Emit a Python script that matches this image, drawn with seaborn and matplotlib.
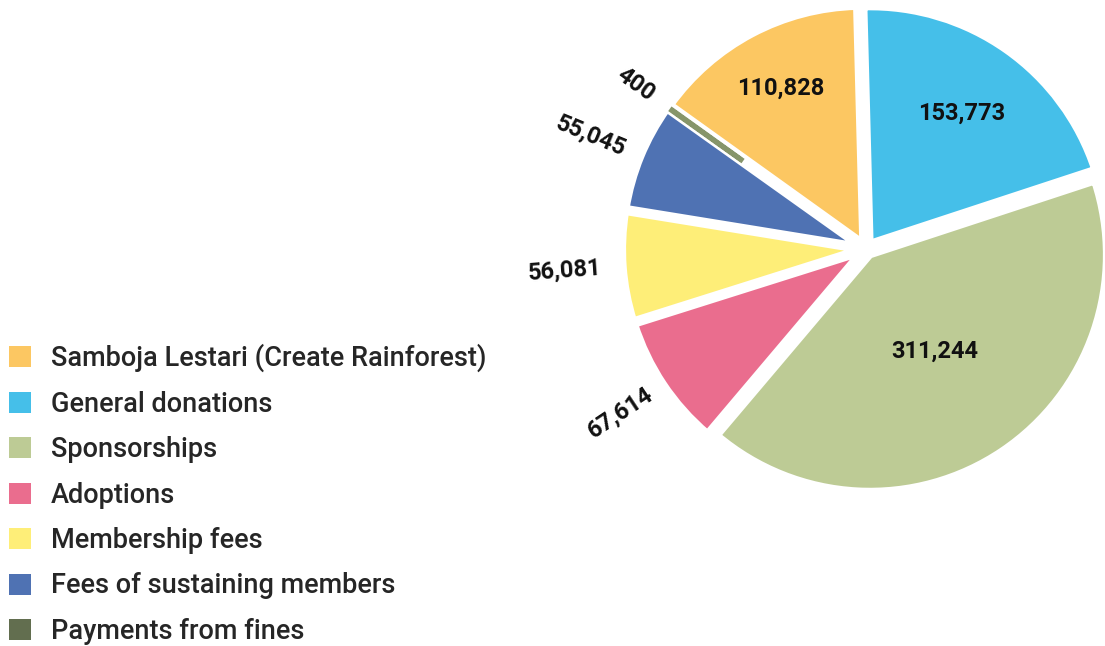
import numpy as np
import matplotlib
matplotlib.use("Agg")
import matplotlib.pyplot as plt
from matplotlib.patches import Patch
import seaborn as sns

categories = [
    "Samboja Lestari (Create Rainforest)",
    "General donations",
    "Sponsorships",
    "Adoptions",
    "Membership fees",
    "Fees of sustaining members",
    "Payments from fines",
]
values = [110828, 153773, 311244, 67614, 56081, 55045, 400]
value_labels = ["110,828", "153,773", "311,244", "67,614", "56,081", "55,045", "400"]
colors = ["#FCC762", "#45BFE9", "#BDCB95", "#EA6D8E", "#FEEE78", "#4F72B3", "#86956A"]
legend_colors = ["#FCC762", "#45BFE9", "#BDCB95", "#EA6D8E", "#FEEE78", "#4F72B3", "#626E4F"]

# label placement: radius (fraction of R) and whether the label sits outside
label_radius = [0.77, 0.70, 0.52, 1.25, 1.28, 1.26, 1.20]
outside = [False, False, False, True, True, True, True]

sns.set_theme(style="white")
plt.rcParams["font.family"] = ["Roboto", "DejaVu Sans"]

fig = plt.figure(figsize=(11.05, 6.46), dpi=100)
ax = fig.add_axes([0.5108, 0.1477, 0.5459, 0.9337])

total = sum(values)
start = 91.5 + 360 * values[0] / total
wedges, _ = ax.pie(
    values,
    colors=sns.color_palette(colors),
    startangle=start,
    counterclock=False,
    explode=[0.03] * (len(values) - 1) + [0.01],
    wedgeprops=dict(edgecolor="white", linewidth=5),
)
# the tiny "fines" slice: keep only its outer part visible, as in the original
tiny = wedges[-1]
tiny.set_width(0.36)
tiny.set_edgecolor(colors[-1])
tiny.set_linewidth(3.5)
tiny.set_zorder(5)

lim = 1.276
ax.set_xlim(-lim, lim)
ax.set_ylim(-lim, lim)
ax.set_aspect("equal")
ax.axis("off")

for w, lab, r, out in zip(wedges, value_labels, label_radius, outside):
    theta = (w.theta1 + w.theta2) / 2
    x = r * np.cos(np.radians(theta))
    y = r * np.sin(np.radians(theta))
    rot = theta - 180 if out else 0
    ax.text(x, y, lab, ha="center", va="center", fontsize=17, fontweight="bold",
            rotation=rot, rotation_mode="anchor", color="#111111", zorder=6)

handles = [Patch(facecolor=c, edgecolor="none") for c in legend_colors]
fig.legend(
    handles, categories,
    loc="upper left", bbox_to_anchor=(-0.009, 0.497),
    frameon=False, prop=dict(size=19.5, weight="medium"),
    handlelength=0.82, handleheight=0.82, handletextpad=0.72,
    labelspacing=0.68, borderaxespad=0.3,
)

fig.savefig("out.png", dpi=100)
